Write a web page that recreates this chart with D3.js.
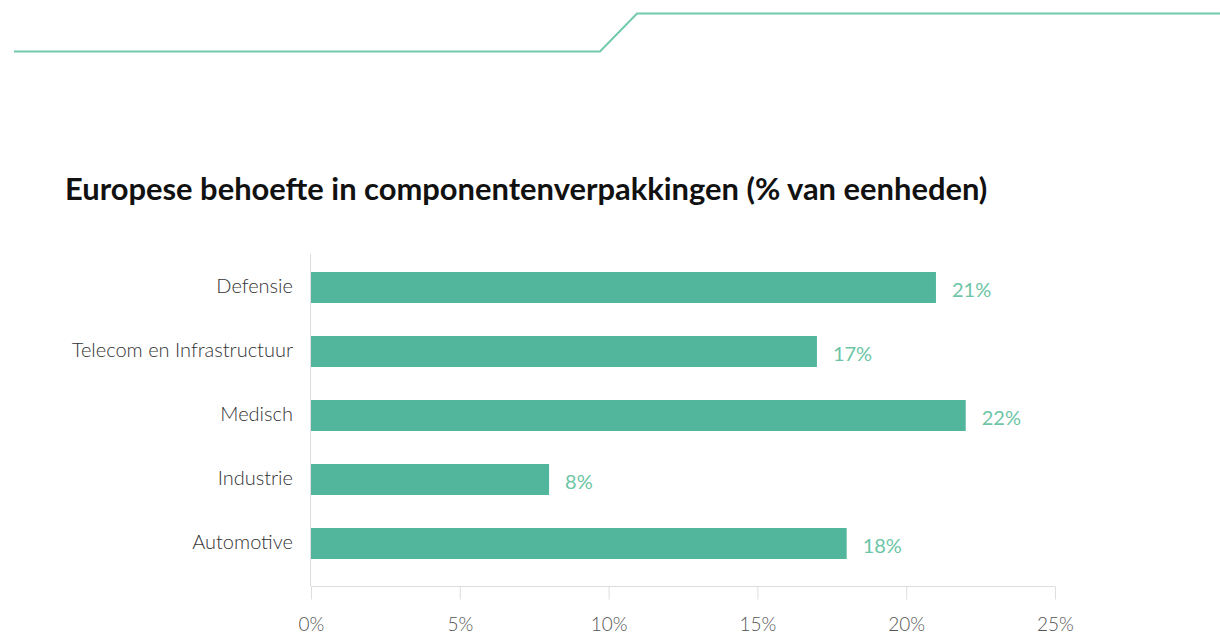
<!DOCTYPE html>
<html>
<head>
<meta charset="utf-8">
<script src="https://cdn.jsdelivr.net/npm/d3@7"></script>
<style>
  html, body { margin: 0; padding: 0; background: #fff; }
  svg { display: block; }
</style>
</head>
<body>
<svg id="chart" width="1220" height="638"></svg>
<script>
// Sectoren en aandelen (% van eenheden)
const categories = ["Defensie", "Telecom en Infrastructuur", "Medisch", "Industrie", "Automotive"];
const values = [21, 17, 22, 8, 18];
const tickValues = [0, 5, 10, 15, 20, 25];
const title = "Europese behoefte in componentenverpakkingen (% van eenheden)";

const svg = d3.select("#chart");
const FONT = "Lato, 'Source Sans Pro', 'Noto Sans', sans-serif";

// Decoratieve lijn bovenaan
svg.append("path")
  .attr("d", d3.line()([[14, 51.5], [600, 51.5], [637, 13.5], [1220, 13.5]]))
  .attr("fill", "none")
  .attr("stroke", "#73c9ae")
  .attr("stroke-width", 2);

// Titel
svg.append("text")
  .attr("x", 65)
  .attr("y", 200)
  .attr("font-family", FONT)
  .attr("font-weight", 700)
  .attr("font-size", 30.9)
  .attr("fill", "#111")
  .text(title);

const x = d3.scaleLinear().domain([0, 25]).range([311, 1055]);
const y = d3.scaleBand().domain(categories).range([256, 576])
  .paddingInner(0.5).paddingOuter(0.25);

// Verticale as-lijn
svg.append("line")
  .attr("x1", 310.5).attr("x2", 310.5)
  .attr("y1", 254).attr("y2", 586)
  .attr("stroke", "#dddddd").attr("stroke-width", 1);

// X-as
const xAxis = svg.append("g")
  .attr("transform", "translate(0,586.5)")
  .call(d3.axisBottom(x).tickValues(tickValues).tickSize(13).tickPadding(18)
    .tickFormat(d => d + "%"));
xAxis.select(".domain").attr("stroke", "#dddddd").attr("d", `M${x(0)},0H${x(25)}`);
xAxis.selectAll(".tick line").attr("stroke", "#dddddd");
xAxis.selectAll(".tick text")
  .attr("font-family", FONT)
  .attr("font-weight", 300)
  .attr("font-size", 19)
  .attr("fill", "#555");

// Categorielabels
svg.append("g").selectAll("text")
  .data(categories)
  .join("text")
  .attr("x", 293)
  .attr("y", d => y(d) + y.bandwidth() / 2)
  .attr("dy", "0.25em")
  .attr("text-anchor", "end")
  .attr("font-family", FONT)
  .attr("font-weight", 300)
  .attr("font-size", 20)
  .attr("fill", "#333")
  .text(d => d);

const data = categories.map((c, i) => ({ c, v: values[i] }));

// Balken
svg.append("g").selectAll("rect")
  .data(data)
  .join("rect")
  .attr("x", x(0))
  .attr("y", d => y(d.c))
  .attr("width", d => x(d.v) - x(0))
  .attr("height", y.bandwidth() - 1)
  .attr("fill", "#52b69c");

// Waardelabels
svg.append("g").selectAll("text")
  .data(data)
  .join("text")
  .attr("x", d => x(d.v) + 16)
  .attr("y", d => y(d.c) + y.bandwidth() / 2 + 2)
  .attr("dy", "0.35em")
  .attr("font-family", FONT)
  .attr("font-weight", 400)
  .attr("font-size", 20)
  .attr("fill", "#6cc5a6")
  .text(d => d.v + "%");
</script>
</body>
</html>
